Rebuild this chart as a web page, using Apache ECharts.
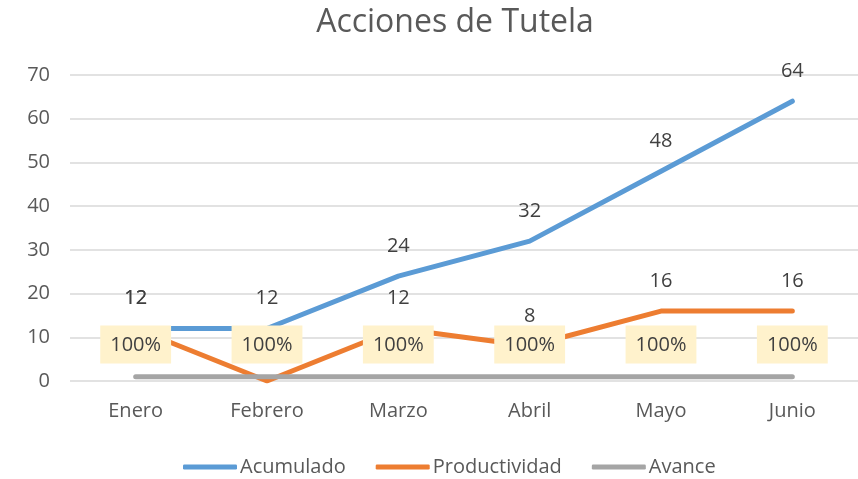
<!DOCTYPE html>
<html>
<head>
<meta charset="utf-8">
<script src="https://cdn.jsdelivr.net/npm/echarts@6/dist/echarts.min.js"></script>
<style>
  html, body { margin: 0; padding: 0; background: #fff; }
  #chart { width: 858px; height: 479px; }
</style>
</head>
<body>
<div id="chart"></div>
<script>
const meses = ['Enero', 'Febrero', 'Marzo', 'Abril', 'Mayo', 'Junio']
const acumulado = [12, 12, 24, 32, 48, 64]
const productividad = [12, 0, 12, 8, 16, 16]
const avance = [1, 1, 1, 1, 1, 1]

const FONT = '"Open Sans", "Noto Sans", sans-serif'
const textColor = '#595959'

const chart = echarts.init(document.getElementById('chart'))

// labels need a symbol to hang on, so keep a tiny invisible one
const lineSeries = (name, data, color, extra) => Object.assign({
  name: name,
  type: 'line',
  data: data,
  symbol: 'circle',
  symbolSize: 0.01,
  lineStyle: { width: 5, color: color, cap: 'round', join: 'round' },
  itemStyle: { color: color },
  label: {
    show: true,
    position: 'top',
    distance: 20,
    color: '#404040',
    fontSize: 20,
    fontFamily: FONT
  }
}, extra)

chart.setOption({
  animation: false,
  title: {
    text: 'Acciones de Tutela',
    left: 450,
    top: 2,
    textAlign: 'center',
    textStyle: { color: textColor, fontSize: 32, fontWeight: 'normal', fontFamily: FONT }
  },
  grid: { left: 70, top: 75, width: 792, height: 306, containLabel: false },
  legend: {
    top: 452,
    left: 178,
    itemWidth: 54,
    itemHeight: 5,
    itemGap: 30,
    icon: 'roundRect',
    textStyle: { color: textColor, fontSize: 20, fontFamily: FONT, padding: [0, 0, 0, -2] },
    data: ['Acumulado', 'Productividad', 'Avance']
  },
  xAxis: {
    type: 'category',
    data: meses,
    boundaryGap: true,
    axisLine: { show: false },
    axisTick: { show: false },
    axisLabel: { color: textColor, fontSize: 20, fontFamily: FONT, margin: 20 }
  },
  yAxis: {
    type: 'value',
    min: 0,
    max: 70,
    interval: 10,
    axisLine: { show: false },
    axisTick: { show: false },
    splitLine: { lineStyle: { color: '#D9D9D9', width: 1.5 } },
    axisLabel: { color: textColor, fontSize: 20, fontFamily: FONT, margin: 20 }
  },
  series: [
    lineSeries('Acumulado', acumulado, '#5B9BD5', { z: 2 }),
    lineSeries('Productividad', productividad, '#ED7D31', { z: 3 }),
    lineSeries('Avance', avance, '#A5A5A5', {
      z: 4,
      label: {
        show: true,
        position: 'top',
        distance: 13,
        color: '#404040',
        fontSize: 20,
        fontFamily: FONT,
        backgroundColor: '#FFF2CC',
        padding: [10, 10, 8, 10],
        formatter: p => Math.round(p.value * 100) + '%'
      }
    })
  ]
})
</script>
</body>
</html>
